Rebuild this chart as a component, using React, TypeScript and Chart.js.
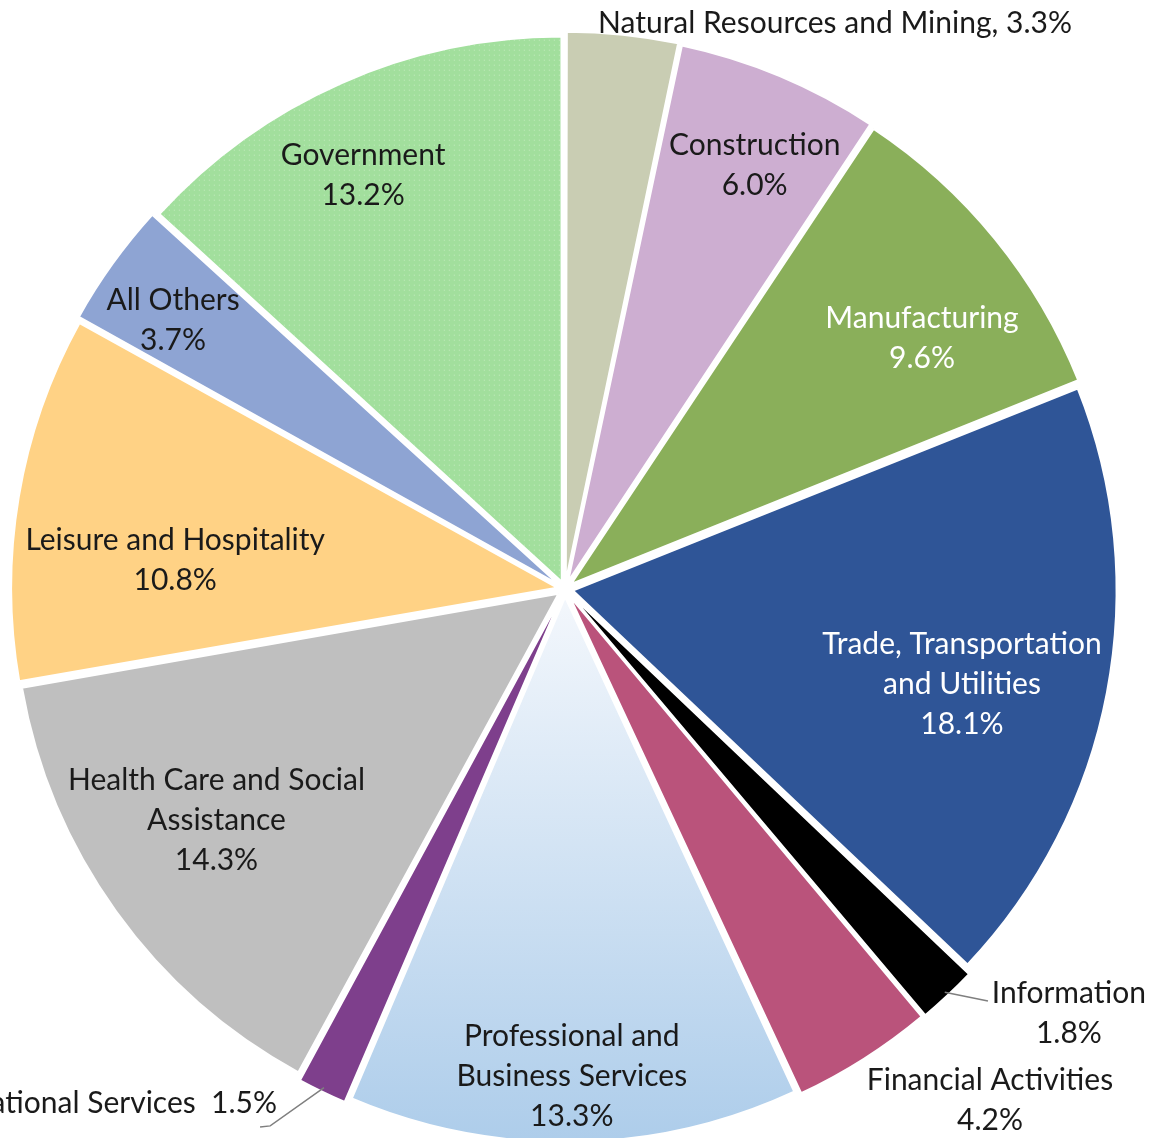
import React, { useEffect, useRef } from "react";
import { Chart, registerables } from "chart.js";

Chart.register(...registerables);

// ---- data ----
const categories = [
  "Natural Resources and Mining",
  "Construction",
  "Manufacturing",
  "Trade, Transportation and Utilities",
  "Information",
  "Financial Activities",
  "Professional and Business Services",
  "Educational Services",
  "Health Care and Social Assistance",
  "Leisure and Hospitality",
  "All Others",
  "Government",
];
const shares = [3.3, 6.0, 9.6, 18.1, 1.8, 4.2, 13.3, 1.5, 14.3, 10.8, 3.7, 13.2];

// how each label's name is wrapped
const labelNameLines = [
  ["Natural Resources and Mining"],
  ["Construction"],
  ["Manufacturing"],
  ["Trade, Transportation", "and Utilities"],
  ["Information"],
  ["Financial Activities"],
  ["Professional and", "Business Services"],
  ["Educational Services"],
  ["Health Care and Social", "Assistance"],
  ["Leisure and Hospitality"],
  ["All Others"],
  ["Government"],
];
// label joins percentage on same line with this separator (null => own line)
const inlineSep: (string | null)[] = [", ", null, null, null, null, null, null, "  ", null, null, null, null];

// ---- styles ----
const sliceColors = [
  "#C9CDB3", "#CDAED1", "#8AAF5A", "#2F5597", "#000000", "#BA537B",
  "GRADIENT", "#7E3F8C", "#BFBFBF", "#FFD285", "#8EA4D3", "PATTERN",
];
const textColors = ["#1a1a1a", "#1a1a1a", "#ffffff", "#ffffff", "#1a1a1a", "#1a1a1a", "#1a1a1a", "#1a1a1a", "#1a1a1a", "#1a1a1a", "#1a1a1a", "#1a1a1a"];
// label placement: fraction of radius along slice mid-angle, angle tweak (deg), alignment
const labelFrac = [1.157, 0.858, 0.806, 0.751, 1.2105, 1.221, 0.893, 1.082, 0.768, 0.72, 0.877, 0.851];
const labelDeg = [19.5, 1.3, 3.8, 2.4, -6.76, -7.4, 0.1, 3.56, 2.4, -5.1, -1.1, -2.1];
const labelAlign: CanvasTextAlign[] = ["center", "center", "center", "center", "center", "center", "center", "right", "center", "center", "center", "center"];
// leader lines: list of [frac, deg] points per slice
const leaders: Record<number, [number, number][]> = {
  4: [[1.02, 0], [1.0875, -2.46]],
  7: [[1.02, 0], [1.128, 2.98], [1.139, 3.75]],
};

const FONT = "30px Lato";
const LINE_H = 40;
const TEXT_SHIFT_Y = 2;

function makeDots(): CanvasPattern | string {
  const c = document.createElement("canvas");
  c.width = 5;
  c.height = 5;
  const g = c.getContext("2d");
  if (!g) return "#A2DF9D";
  g.fillStyle = "#A2DF9D";
  g.fillRect(0, 0, 5, 5);
  g.fillStyle = "#C6EDC2";
  g.fillRect(2, 2, 1, 1);
  return g.createPattern(c, "repeat") || "#A2DF9D";
}

const labelPlugin = {
  id: "sliceLabels",
  afterDatasetsDraw(chart: any) {
    const ctx: CanvasRenderingContext2D = chart.ctx;
    const meta = chart.getDatasetMeta(0);
    ctx.save();
    ctx.font = FONT;
    ctx.textBaseline = "middle";
    meta.data.forEach((arc: any, i: number) => {
      const { x, y, startAngle, endAngle, outerRadius } = arc.getProps(
        ["x", "y", "startAngle", "endAngle", "outerRadius"],
        true
      );
      const mid = (startAngle + endAngle) / 2;
      const at = (f: number, d: number) => {
        const a = mid + (d * Math.PI) / 180;
        return [x + f * outerRadius * Math.cos(a), y + f * outerRadius * Math.sin(a)];
      };
      // leader
      const pts = leaders[i];
      if (pts) {
        ctx.beginPath();
        ctx.strokeStyle = "#7f7f7f";
        ctx.lineWidth = 1.5;
        pts.forEach((p, k) => {
          const [px, py] = at(p[0], p[1]);
          if (k === 0) ctx.moveTo(px, py);
          else ctx.lineTo(px, py);
        });
        ctx.stroke();
      }
      const pct = shares[i].toFixed(1) + "%";
      const names = labelNameLines[i].slice();
      let lines: string[];
      if (inlineSep[i] !== null) {
        names[names.length - 1] = names[names.length - 1] + inlineSep[i] + pct;
        lines = names;
      } else {
        lines = [...names, pct];
      }
      const [cx, cy] = at(labelFrac[i], labelDeg[i]);
      ctx.fillStyle = textColors[i];
      ctx.textAlign = labelAlign[i];
      const top = cy + TEXT_SHIFT_Y - ((lines.length - 1) * LINE_H) / 2;
      lines.forEach((ln, k) => ctx.fillText(ln, cx, top + k * LINE_H));
    });
    ctx.restore();
  },
};

export default function App() {
  const ref = useRef<HTMLCanvasElement | null>(null);
  useEffect(() => {
    if (!ref.current) return;
    const dots = makeDots();
    const chart = new Chart(ref.current, {
      type: "pie",
      data: {
        labels: categories,
        datasets: [
          {
            data: shares,
            backgroundColor: (c: any) => {
              const col = sliceColors[c.dataIndex];
              if (col === "PATTERN") return dots;
              if (col === "GRADIENT") {
                const area = c.chart.chartArea;
                if (!area) return "#CFE0F3";
                const cy = (area.top + area.bottom) / 2;
                const g = c.chart.ctx.createLinearGradient(0, cy, 0, cy + 555);
                g.addColorStop(0, "#F3F7FC");
                g.addColorStop(1, "#ACCCEA");
                return g;
              }
              return col;
            },
            borderColor: "#ffffff",
            borderWidth: 2,
            offset: 32,
          },
        ],
      },
      options: {
        responsive: false,
        animation: false,
        radius: 543,
        layout: { padding: { left: 0, right: 23, top: 40, bottom: 0 } },
        plugins: {
          legend: { display: false },
          tooltip: { enabled: false },
        },
      } as any,
      plugins: [labelPlugin],
    });
    return () => chart.destroy();
  }, []);
  return (
    <canvas
      ref={ref}
      width={1153}
      height={1138}
      style={{ position: "absolute", left: 0, top: 0, width: 1153, height: 1138, display: "block" }}
    />
  );
}
